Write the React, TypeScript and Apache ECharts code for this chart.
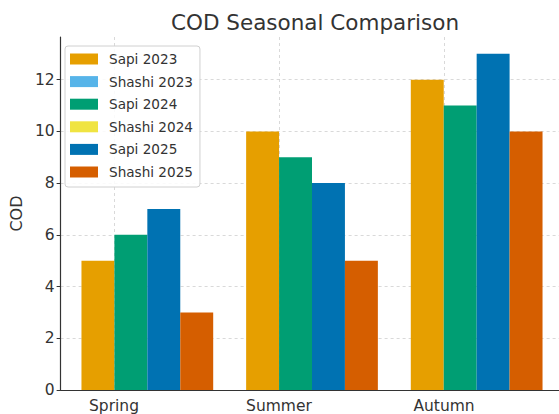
import React, { useEffect, useRef } from "react";
import * as echarts from "echarts";

const seasons = ["Spring", "Summer", "Autumn"];
const sapi2023 = [5, 10, 12];
const shashi2023: (number | null)[] = [null, null, null];
const sapi2024 = [6, 9, 11];
const shashi2024: (number | null)[] = [null, null, null];
const sapi2025 = [7, 8, 13];
const shashi2025 = [3, 5, 10];
const yTicks = [0, 2, 4, 6, 8, 10, 12];

const FONT = "DejaVu Sans";
const TXT = "#333333";
const GRIDC = "#cfcfcf";

export default function App() {
  const ref = useRef<HTMLDivElement>(null);
  useEffect(() => {
    if (!ref.current) return;
    const chart = echarts.init(ref.current, undefined, { renderer: "svg" });
    const yMax = 13.65;
    const top = 37;
    const height = 353;
    const mkBar = (name: string, data: (number | null)[], color: string, stack: string) => ({
      name,
      type: "bar",
      stack,
      xAxisIndex: 0,
      yAxisIndex: 0,
      data,
      itemStyle: { color },
      barGap: "0%",
      barCategoryGap: "20%",
    });
    chart.setOption({
      animation: false,
      textStyle: { fontFamily: FONT },
      title: {
        text: "COD Seasonal Comparison",
        left: 166,
        top: 6,
        textStyle: { fontFamily: FONT, fontSize: 21.5, fontWeight: "normal", color: TXT },
      },
      legend: {
        orient: "vertical",
        left: 65,
        top: 46,
        itemWidth: 28,
        itemHeight: 11,
        itemGap: 8.6,
        padding: [6, 7, 8, 5],
        borderColor: "#d0d0d0",
        borderWidth: 1,
        borderRadius: 3,
        backgroundColor: "rgba(255,255,255,0.85)",
        icon: "rect",
        textStyle: { fontFamily: FONT, fontSize: 13.6, color: TXT, padding: [0, 0, 0, 6] },
        data: ["Sapi 2023", "Shashi 2023", "Sapi 2024", "Shashi 2024", "Sapi 2025", "Shashi 2025"],
        z: 10,
      },
      grid: [
        { left: 65, width: 495, top, height },
        { left: 59, width: 507, top, height },
        { left: 114, width: 330, top, height },
      ],
      xAxis: [
        {
          type: "category",
          gridIndex: 0,
          data: seasons,
          axisLine: { show: false },
          axisTick: { show: false },
          axisLabel: { show: false },
          splitLine: { show: false },
        },
        {
          type: "value",
          gridIndex: 1,
          min: 0,
          max: 1,
          axisLine: { show: true, lineStyle: { color: TXT, width: 1.2 } },
          axisTick: { show: false },
          axisLabel: { show: false },
          splitLine: { show: false },
        },
        {
          type: "value",
          gridIndex: 2,
          min: 0,
          max: 2,
          interval: 1,
          axisLine: { show: false },
          axisTick: { show: false },
          axisLabel: {
            show: true,
            margin: 8,
            fontFamily: FONT,
            fontSize: 15.5,
            color: TXT,
            formatter: (v: number) => seasons[Math.round(v)] ?? "",
          },
          splitLine: { show: true, lineStyle: { color: GRIDC, type: [3, 3], width: 0.8 } },
        },
      ],
      yAxis: [
        {
          type: "value",
          gridIndex: 0,
          min: 0,
          max: yMax,
          show: false,
        },
        {
          type: "value",
          gridIndex: 1,
          min: 0,
          max: yMax,
          interval: 2,
          name: "COD",
          nameLocation: "middle",
          nameGap: 33,
          nameTextStyle: { fontFamily: FONT, fontSize: 16, color: TXT },
          axisLine: { show: true, lineStyle: { color: TXT, width: 1.2 } },
          axisTick: { show: true, length: 4, lineStyle: { color: TXT } },
          axisLabel: {
            fontFamily: FONT,
            fontSize: 15.5,
            color: TXT,
            margin: 6,
            showMaxLabel: false,
            formatter: (v: number) => (yTicks.includes(v) ? String(v) : ""),
          },
          splitLine: { show: true, showMaxLine: false, lineStyle: { color: GRIDC, type: [3, 3], width: 0.8 } },
        },
        {
          type: "value",
          gridIndex: 2,
          min: 0,
          max: yMax,
          show: false,
        },
      ],
      series: [
        mkBar("Sapi 2023", sapi2023, "#E69F00", "a"),
        mkBar("Shashi 2023", shashi2023, "#56B4E9", "a"),
        mkBar("Sapi 2024", sapi2024, "#009E73", "b"),
        mkBar("Shashi 2024", shashi2024, "#F0E442", "b"),
        mkBar("Sapi 2025", sapi2025, "#0072B2", "c"),
        mkBar("Shashi 2025", shashi2025, "#D55E00", "d"),
      ],
    });
    return () => chart.dispose();
  }, []);
  return (
    <div
      ref={ref}
      style={{ position: "fixed", left: 0, top: 0, width: 559, height: 414, background: "#fff" }}
    />
  );
}
